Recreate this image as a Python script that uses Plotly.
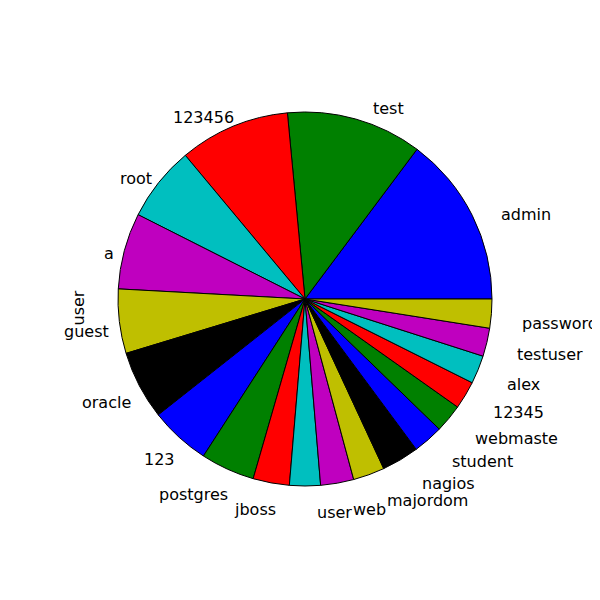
import numpy as np
import plotly.graph_objects as go

labels = ["admin", "test", "123456", "root", "a", "guest", "oracle", "123", "postgres",
          "jboss", "user", "web", "majordom", "nagios", "student", "webmaste", "12345",
          "alex", "testuser", "password"]
values = [53.2, 42.2, 34.4, 23.4, 23.7, 20.0, 21.4, 18.8, 16.8, 11.3, 9.6, 10.3,
          9.8, 11.6, 9.4, 8.8, 8.7, 8.8, 8.8, 9.0]
cycle = ["#0000ff", "#008000", "#ff0000", "#00bfbf", "#bf00bf", "#bfbf00", "#000000"]
colors = [cycle[i % 7] for i in range(len(labels))]

cx, cy, r = 307, 299, 187  # pixels
W = H = 600
total = sum(values)
first_deg = values[0] / total * 360
# plotly's auto-placement shifts the pie a little; compensate domain
dx, dy = -10, -8

fig = go.Figure(go.Pie(
    labels=labels, values=values, sort=False, direction="counterclockwise",
    rotation=90 - first_deg, textinfo="none", hoverinfo="label+value",
    marker=dict(colors=colors, line=dict(color="black", width=1)),
    domain=dict(x=[(cx + dx - r) / W, (cx + dx + r) / W],
                y=[1 - (cy + dy + r) / H, 1 - (cy + dy - r) / H]),
    showlegend=False,
))

cum = np.cumsum([0] + values)
anns = []
for i, lab in enumerate(labels):
    mid = np.deg2rad((cum[i] + values[i] / 2) / total * 360)
    x = cx + 1.1 * r * np.cos(mid)
    y = cy - 1.1 * r * np.sin(mid)
    anns.append(dict(x=x / W, y=1 - y / H, xref="paper", yref="paper", text=lab,
                     showarrow=False, xanchor="left" if np.cos(mid) > 0 else "right",
                     yanchor="middle", font=dict(size=16, color="black")))
anns.append(dict(x=58 / W, y=1 - 300 / H, xref="paper", yref="paper", text="user",
                 textangle=-90, showarrow=False, font=dict(size=16, color="black")))

fig.update_layout(width=W, height=H, margin=dict(l=0, r=0, t=0, b=0),
                  paper_bgcolor="white", plot_bgcolor="white",
                  font=dict(family="DejaVu Sans"), annotations=anns)
fig.write_html("out.html")
